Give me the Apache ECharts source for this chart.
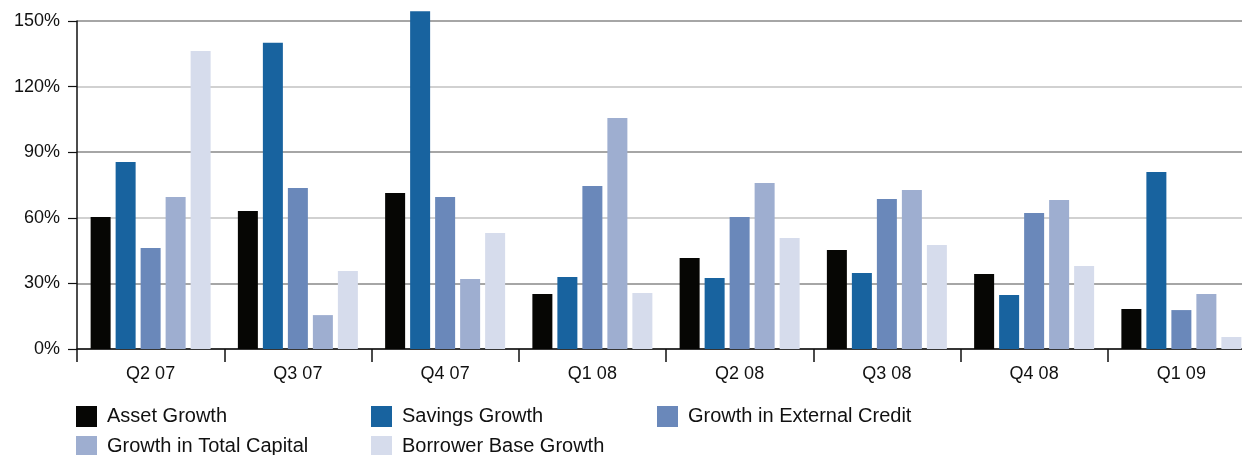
<!DOCTYPE html>
<html>
<head>
<meta charset="utf-8">
<script src="https://cdn.jsdelivr.net/npm/echarts@6/dist/echarts.min.js"></script>
<style>
html,body{margin:0;padding:0;background:#fff;overflow:hidden;width:1242px;height:455px;}
#chart{width:1255px;height:455px;}
</style>
</head>
<body>
<div id="chart"></div>
<script>
var categories = ['Q2 07','Q3 07','Q4 07','Q1 08','Q2 08','Q3 08','Q4 08','Q1 09'];
var assetGrowth = [60.4, 63.1, 71.3, 25.1, 41.6, 45.3, 34.3, 18.3];
var savingsGrowth = [85.5, 140, 154.5, 32.9, 32.5, 34.8, 24.7, 80.9];
var externalCredit = [46.2, 73.6, 69.5, 74.5, 60.4, 68.6, 62.2, 17.8];
var totalCapital = [69.5, 15.5, 32, 105.6, 75.9, 72.7, 68.1, 25.1];
var borrowerBase = [136.3, 35.7, 53, 25.6, 50.8, 47.6, 38, 5.5];
var seriesNames = ['Asset Growth','Savings Growth','Growth in External Credit','Growth in Total Capital','Borrower Base Growth'];
var seriesData = [assetGrowth, savingsGrowth, externalCredit, totalCapital, borrowerBase];
var colors = ['#060604','#18639f','#6a88ba','#9eaed0','#d6dcec'];
var yTicks = [0, 30, 60, 90, 120, 150];

var FONT = '"Liberation Sans", Arial, sans-serif';
var chart = echarts.init(document.getElementById('chart'), null, {renderer:'canvas'});

var legendPos = [
  {left: 76, top: 406}, {left: 371, top: 406}, {left: 657, top: 406},
  {left: 76, top: 436}, {left: 371, top: 436}
];
var legends = seriesNames.map(function(n, i){
  return {
    data: [n], left: legendPos[i].left, top: legendPos[i].top,
    itemWidth: 21, itemHeight: 21, itemGap: 0, padding: 0,
    icon: 'rect', selectedMode: false,
    textStyle: {fontFamily: FONT, fontSize: 20, color: '#111', padding: [0,0,0,5]}
  };
});

var option = {
  animation: false,
  color: colors,
  grid: {left: 77, top: 21, bottom: 106, right: 0, containLabel: false},
  legend: legends,
  xAxis: {
    type: 'category', data: categories,
    axisLine: {lineStyle: {color: '#111', width: 1.5}},
    axisTick: {show: true, length: 13, lineStyle: {color: '#111', width: 1.5}},
    axisLabel: {fontFamily: FONT, fontSize: 18, color: '#111', margin: 16}
  },
  yAxis: {
    type: 'value', min: 0, max: 150, interval: 30,
    axisLine: {show: true, lineStyle: {color: '#111', width: 1.5}},
    axisTick: {show: true, length: 9, lineStyle: {color: '#111', width: 1.2}},
    axisLabel: {fontFamily: FONT, fontSize: 18, color: '#111', margin: 17,
      formatter: function(v){ return v + '%'; }},
    splitLine: {show: true, lineStyle: {color: ['#888','#888','#c2c2c2','#888','#c2c2c2','#888'], width: 1.5}}
  },
  series: seriesData.map(function(d, i){
    return {
      name: seriesNames[i], type: 'bar', data: d,
      barWidth: 20, barGap: '25%', clip: false,
      itemStyle: {color: colors[i]}
    };
  })
};
chart.setOption(option);
</script>
</body>
</html>
